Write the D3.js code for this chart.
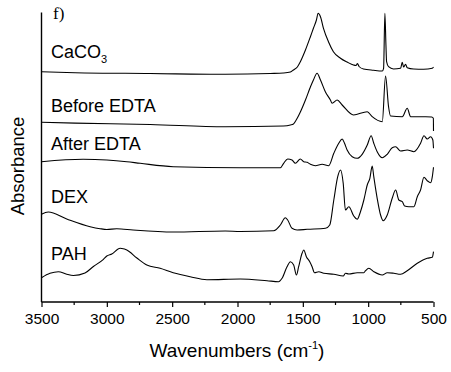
<!DOCTYPE html>
<html>
<head>
<meta charset="utf-8">
<script src="https://cdn.jsdelivr.net/npm/d3@7"></script>
<style>
  body { margin: 0; background: #fff; }
  svg { display: block; }
  text { font-family: Arial, "Liberation Sans", sans-serif; fill: #000; }
</style>
</head>
<body>
<svg id="chart" width="451" height="372"></svg>
<script>
// spectra as [wavenumber, offset absorbance (a.u.)]
const caco3 = [[3500,230.3],[3243,229.3],[2668,228.5],[2094,227.7],[1749,228.5],[1649,229],[1595,230],
  [1572,232],[1542,235],[1519,240.3],[1480,252],[1442,265.3],[1419,273.7],[1396,282],[1383,288.7],
  [1365,285.3],[1342,273.7],[1304,260.3],[1266,250.3],[1212,243.7],[1158,239.7],[1112,237],[1093,236.5],
  [1082,238.5],[1070,235.5],[1036,233],[959,231.7],[892,231],[882,233.7],[872,288.7],[864,257],
  [859,240.3],[844,235.3],[806,233],[752,233.7],[739,239.7],[729,235],[714,237.7],[701,234.3],
  [652,233],[576,232.7],[509,233.7],[500,235]];

const beforeEDTA = [[3500,179.7],[3243,178.9],[2668,177.5],[2094,175.3],[1649,176],[1595,177],[1572,178],
  [1542,184],[1519,190],[1480,202],[1442,215],[1419,222],[1391,228.7],[1365,222],[1327,210],[1289,202],
  [1276,198.7],[1237,202],[1199,197],[1112,187],[1007,190.3],[969,185.3],[892,180.3],[867,226],
  [844,195.3],[829,186],[739,185.3],[701,193.7],[675,185.3],[560,185.3],[514,185],[501,183.7],[500,171]];

const afterEDTA = [[3500,140.3],[3182,142.7],[3000,142],[2847,140.3],[2745,138.7],[2492,135.3],[1979,134.3],
  [1672,134.3],[1647,138.7],[1616,143],[1583,142],[1557,138.7],[1519,143],[1493,140.3],[1467,139.7],
  [1442,137.7],[1404,136.3],[1352,137.7],[1302,136.3],[1263,148.7],[1225,158.7],[1199,163],[1181,158.7],
  [1161,152],[1122,145.3],[1084,143.7],[1046,147.7],[1007,157],[977,166.3],[957,158.7],[931,150.3],
  [892,144.3],[854,147.7],[816,154.3],[790,155.3],[752,151],[701,152],[650,150.3],[599,158.7],
  [573,166.3],[548,163],[522,165.3],[505,162],[500,153.7]];

const dex = [[3500,87.7],[3448,90],[3307,83],[3128,75.3],[3052,73.3],[3000,72.5],[2924,73.3],[2799,72],
  [2492,70],[2094,71],[1979,70.5],[1723,71.3],[1672,77],[1634,84.3],[1616,82],[1583,73.7],[1544,72],
  [1467,72.7],[1327,73.7],[1294,77],[1263,102],[1233,125.3],[1212,132],[1191,118.7],[1174,92],
  [1148,95.3],[1110,86],[1084,82.7],[1059,90.3],[1033,102],[1007,117],[987,123.7],[969,136],
  [957,125.3],[931,103.7],[905,87],[885,81.3],[854,87],[816,103.7],[790,112],[765,102],[739,100.3],
  [721,96],[689,95.3],[650,95.3],[624,105.3],[599,112],[573,124.7],[548,121.3],[522,119.3],
  [509,125.3],[500,134.7]];

const pah = [[3500,24.3],[3435,28.7],[3371,30.3],[3307,27.7],[3256,26.5],[3167,29],[3103,35.5],[3026,42.7],
  [3000,46],[2962,48],[2898,53.7],[2885,53.5],[2847,52],[2770,44],[2694,37],[2592,33.7],[2492,29.3],
  [2362,25.3],[2234,22.3],[1979,23],[1774,21.3],[1685,20.3],[1659,23.7],[1621,35.3],[1595,40.3],
  [1570,37],[1549,27],[1532,35.3],[1506,48.7],[1493,52],[1473,45.3],[1447,40.3],[1429,35.3],
  [1411,29.3],[1378,30.3],[1340,28.7],[1263,27.7],[1191,26],[1174,28.7],[1148,28],[1084,29.3],
  [1033,29.3],[1020,31.3],[995,33.7],[957,30.3],[892,27],[854,29.3],[803,28.7],[752,27.7],
  [701,31.3],[624,38.7],[548,43.7],[509,44.7],[500,50.3]];

const series = [caco3, beforeEDTA, afterEDTA, dex, pah];
const names = ["CaCO", "Before EDTA", "After EDTA", "DEX", "PAH"];
const nameSub = ["3", "", "", "", ""];
const xTicks = [3500, 3000, 2500, 2000, 1500, 1000, 500];
const xMinor = [3250, 2750, 2250, 1750, 1250, 750];

const svg = d3.select("#chart");
const x = d3.scaleLinear().domain([3500, 500]).range([41.5, 433.5]);
const y = d3.scaleLinear().domain([0, 290]).range([302, 12]);

// label baselines, in the same units as the spectra
const labelAt = [244, 190.5, 152, 99.3, 42.5];

const line = d3.line()
  .curve(d3.curveMonotoneX)
  .x(d => x(d[0]))
  .y(d => y(d[1]));

svg.selectAll("path.spec")
  .data(series)
  .enter()
  .append("path")
  .attr("class", "spec")
  .attr("d", line)
  .attr("fill", "none")
  .attr("stroke", "#000")
  .attr("stroke-width", 1.1)
  .attr("stroke-linejoin", "round");

const lbl = svg.selectAll("text.name")
  .data(names)
  .enter()
  .append("text")
  .attr("class", "name")
  .attr("x", 51)
  .attr("y", (d, i) => y(labelAt[i]))
  .style("font-size", "18px")
  .text(d => d);
lbl.filter((d, i) => nameSub[i])
  .append("tspan")
  .attr("dy", 5)
  .style("font-size", "11px")
  .text((d, i) => "3");

// axes
const xAxis = d3.axisBottom(x).tickValues(xTicks).tickSize(5).tickPadding(6).tickFormat(d3.format("d"));
const gx = svg.append("g").attr("transform", "translate(0,302)").call(xAxis);
gx.select(".domain").attr("d", `M${x(3500)},0H${x(500)}`).attr("stroke-width", 1.4);
gx.selectAll(".tick line").attr("stroke-width", 1.2);
gx.selectAll(".tick text")
  .style("font-family", "Arial, 'Liberation Sans', sans-serif")
  .style("font-size", "15.5px")
  .attr("fill", "#000");
gx.selectAll(".minor")
  .data(xMinor)
  .enter()
  .append("line")
  .attr("class", "minor")
  .attr("x1", d => x(d)).attr("x2", d => x(d))
  .attr("y1", 0).attr("y2", 3)
  .attr("stroke", "#000")
  .attr("stroke-width", 1.2);

svg.append("line")
  .attr("x1", x(3500)).attr("x2", x(3500))
  .attr("y1", 12.5).attr("y2", 302)
  .attr("stroke", "#000")
  .attr("stroke-width", 1.4);

// titles
const xt = svg.append("text")
  .attr("x", 237)
  .attr("y", 357)
  .attr("text-anchor", "middle")
  .style("font-size", "19px");
xt.append("tspan").text("Wavenumbers (cm");
xt.append("tspan").attr("dy", -8).style("font-size", "11px").text("-1");
xt.append("tspan").attr("dy", 8).text(")");

svg.append("text")
  .attr("transform", "translate(24,166) rotate(-90)")
  .attr("text-anchor", "middle")
  .style("font-size", "18.5px")
  .text("Absorbance");

svg.append("text")
  .attr("x", 53)
  .attr("y", 19)
  .style("font-family", "'Liberation Serif', 'Times New Roman', serif")
  .style("font-size", "17px")
  .text("f)");
</script>
</body>
</html>
